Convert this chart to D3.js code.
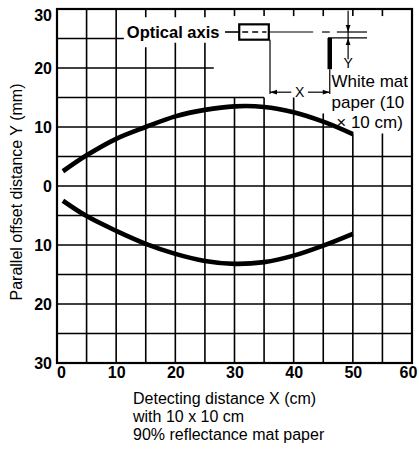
<!DOCTYPE html>
<html><head><meta charset="utf-8">
<script src="https://cdn.jsdelivr.net/npm/d3@7"></script>
<style>
body{margin:0;background:#fff;}
svg{display:block;font-family:"Liberation Sans",Arial,Helvetica,sans-serif;}
</style></head><body>
<svg id="c" width="419" height="449"></svg>
<script>
// ---- data ----
const xTicks = [0, 10, 20, 30, 40, 50, 60];
const yTicks = [30, 20, 10, 0, -10, -20, -30];
const yTickLabels = ["30", "20", "10", "0", "10", "20", "30"];
const curveX = [1, 5, 10, 15, 20, 25, 30, 35, 40, 45, 50];
const upperY = [2.5, 5.2, 8.0, 10.0, 11.8, 12.9, 13.5, 13.4, 12.5, 10.9, 8.8];
const lowerY = [-2.5, -5.1, -7.6, -9.8, -11.5, -12.7, -13.2, -12.9, -11.8, -10.1, -8.1];
const xTitleLines = ["Detecting distance X (cm)", "with 10 x 10 cm", "90% reflectance mat paper"];
const yTitle = "Parallel offset distance Y (mm)";
const insetTitle = "Optical axis";
const paperLines = ["White mat", "paper (10", " \u00d7 10 cm)"];

// ---- layout ----
const FONT = "'Liberation Sans', Arial, Helvetica, sans-serif";
const svg = d3.select("#c");
const x = d3.scaleLinear().domain([0, 60]).range([57, 412]);
const y = d3.scaleLinear().domain([-30, 30]).range([363, 9]);

// grid segments (data units); upper-right area is left open for the inset sketch
const hGrid = [[25, 0, 11.3], [20, 0, 26.5], [15, 0, 35], [10, 0, 46.5],
  [5, 0, 60], [0, 0, 60], [-5, 0, 60], [-10, 0, 60], [-15, 0, 60], [-20, 0, 60], [-25, 0, 60]];
const vGrid = [[5, [[30, -30]]], [10, [[30, -30]]], [15, [[30, 28.6], [23.5, -30]]],
  [20, [[30, 28.6], [24.3, -30]]], [25, [[30, 28.6], [24.3, -30]]],
  [30, [[30, 28.8], [15, -30]]], [35, [[30, 28.8], [15, -30]]], [40, [[30, 28.8], [15, -30]]],
  [45, [[30, 28.8], [12.3, -30]]], [50, [[30, 28.8], [8.9, -30]]], [55, [[30, 28.8], [8.9, -30]]]];

const grid = svg.append("g").attr("stroke", "#000").attr("stroke-width", 1.6);
hGrid.forEach(([yy, a, b]) => grid.append("line")
  .attr("x1", x(a)).attr("x2", x(b)).attr("y1", y(yy)).attr("y2", y(yy)));
vGrid.forEach(([xx, segs]) => segs.forEach(([a, b]) => grid.append("line")
  .attr("x1", x(xx)).attr("x2", x(xx)).attr("y1", y(a)).attr("y2", y(b))));

// border
svg.append("rect").attr("x", x(0)).attr("y", y(30)).attr("width", x(60) - x(0)).attr("height", y(-30) - y(30))
  .attr("fill", "none").attr("stroke", "#000").attr("stroke-width", 2.2);

// curves
const line = d3.line().x(d => x(d[0])).y(d => y(d[1])).curve(d3.curveCatmullRom);
[upperY, lowerY].forEach(ys => svg.append("path")
  .attr("d", line(curveX.map((v, i) => [v, ys[i]])))
  .attr("fill", "none").attr("stroke", "#000").attr("stroke-width", 4.6));

// axes
const xAxis = svg.append("g").attr("transform", `translate(0,${y(-30)})`)
  .call(d3.axisBottom(x).tickValues(xTicks).tickSize(0).tickPadding(4).tickFormat(d3.format("d")));
xAxis.select(".domain").remove();
xAxis.attr("font-family", FONT).attr("font-size", 16).attr("font-weight", "bold");
xAxis.selectAll("text").attr("fill", "#000")
  .attr("dx", d => d === 0 ? 4 : (d === 60 ? -4 : 0));

const yAxis = svg.append("g").attr("transform", `translate(${x(0)},0)`)
  .call(d3.axisLeft(y).tickValues(yTicks).tickSize(0).tickPadding(5).tickFormat((d, i) => yTickLabels[i]));
yAxis.select(".domain").remove();
yAxis.attr("font-family", FONT).attr("font-size", 16).attr("font-weight", "bold");
yAxis.selectAll("text").attr("fill", "#000")
  .attr("dy", d => d === 30 ? "0.72em" : "0.34em");

// titles
svg.append("text").attr("transform", `translate(22,${(y(30) + y(-30)) / 2 + 6}) rotate(-90)`)
  .attr("text-anchor", "middle").attr("font-size", 16).attr("fill", "#000").text(yTitle);
svg.append("g").selectAll("text").data(xTitleLines).join("text")
  .attr("x", 133).attr("y", (d, i) => 404 + i * 18).attr("font-size", 16).attr("fill", "#000").text(d => d);

// ---- inset sketch (positions in data units) ----
const g = svg.append("g").attr("stroke", "#000").attr("fill", "none");
const seg = (x1, y1, x2, y2, w) => g.append("line").attr("x1", x(x1)).attr("y1", y(y1))
  .attr("x2", x(x2)).attr("y2", y(y2)).attr("stroke-width", w || 1.3);
const arrow = (tx, ty, dir) => { // dir: 'l','r','u','d' direction of the tip
  const px = x(tx), py = y(ty), L = 7, W = 2.4;
  let pts;
  if (dir === "l") pts = [[px, py], [px + L, py - W], [px + L, py + W]];
  if (dir === "r") pts = [[px, py], [px - L, py - W], [px - L, py + W]];
  if (dir === "u") pts = [[px, py], [px - W, py + L], [px + W, py + L]];
  if (dir === "d") pts = [[px, py], [px - W, py - L], [px + W, py - L]];
  svg.append("path").attr("d", "M" + pts.join("L") + "Z").attr("fill", "#000");
};
const axisY = 26.1;
svg.append("text").attr("x", x(11.8)).attr("y", y(25.1)).attr("font-size", 16.5)
  .attr("font-weight", "bold").attr("fill", "#000").text(insetTitle);
seg(28.4, axisY, 30.8, axisY, 1.6);
g.append("rect").attr("x", x(30.8)).attr("y", y(27.4)).attr("width", x(35.8) - x(30.8))
  .attr("height", y(24.8) - y(27.4)).attr("stroke-width", 2.2);
seg(31.3, axisY, 35.4, axisY, 1.6).attr("stroke-dasharray", "6,4");
seg(35.8, axisY, 43.3, axisY, 1.2);
seg(44.8, axisY, 46.1, axisY, 1.2);
seg(47.3, axisY, 52.4, axisY, 1.2);
seg(45.8, 25.1, 52.4, 25.1, 1.2);
seg(49.2, 29.7, 49.2, 21.5, 1.2);
arrow(49.2, axisY, "d");
arrow(49.2, 25.1, "u");
svg.append("text").attr("x", x(49.2)).attr("y", y(20.0)).attr("text-anchor", "middle")
  .attr("font-size", 14).attr("fill", "#000").text("Y");
seg(46.1, 25.1, 46.1, 19.8, 4.5);
seg(46.1, 19.8, 46.1, 15.6, 1.2);
seg(36.0, 24.8, 36.0, 15.6, 1.2);
seg(36.0, 15.9, 39.6, 15.9, 1.2);
seg(42.4, 15.9, 46.1, 15.9, 1.2);
arrow(36.0, 15.9, "l");
arrow(46.1, 15.9, "r");
svg.append("text").attr("x", x(41.0)).attr("y", y(15.9)).attr("dy", "0.35em").attr("text-anchor", "middle")
  .attr("font-size", 14).attr("fill", "#000").text("X");
svg.append("g").selectAll("text").data(paperLines).join("text")
  .attr("x", x(46.4)).attr("y", (d, i) => y(16.8 - i * 3.5)).attr("font-size", 17)
  .attr("fill", "#000").attr("xml:space", "preserve").style("white-space", "pre").text(d => d);
</script>
</body></html>
